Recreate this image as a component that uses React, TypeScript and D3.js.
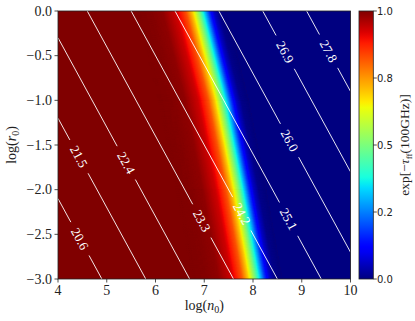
import React from "react";
import * as d3 from "d3";

const width = 415;
const height = 321;
const plot = { left: 58, right: 350.5, top: 11, bottom: 279 };
const cbar = { left: 359, right: 373.3, top: 11, bottom: 279 };

const xTicks = [4, 5, 6, 7, 8, 9, 10];
const yTicks = [0, -0.5, -1, -1.5, -2, -2.5, -3];
const yTickLabels = ["0.0", "−0.5", "−1.0", "−1.5", "−2.0", "−2.5", "−3.0"];

// x position where exp(-tau) = 0.5, read at a few rows
const bandRowY = [0, -1, -2, -3];
const bandMidX = [6.9, 7.36, 7.72, 8.05];
// colour profile across the band: offset (dex from the mid line) -> value
const profileOffset = [-1.3, -1.0, -0.75, -0.48, -0.27, -0.14, 0, 0.1, 0.2, 0.3, 0.4, 0.55];
const profileValue = [1.0, 0.995, 0.985, 0.93, 0.82, 0.69, 0.5, 0.34, 0.18, 0.065, 0.013, 0.0];

// contour levels of log N = log n0 + log r0 + 18.7
const contourLevels = [20.6, 21.5, 22.4, 23.3, 24.2, 25.1, 26.0, 26.9, 27.8];
const contourLabelX = [4.45, 4.43, 5.4, 6.95, 7.77, 8.73, 8.75, 8.66, 9.55];
const levelOffset = 18.7;

const cbTicks = [0, 0.25, 0.5, 0.75, 1];
const cbTickLabels = ["0.0", "0.2", "0.5", "0.8", "1.0"];

// matplotlib "jet"
const jetR = d3.scaleLinear([0, 0.35, 0.66, 0.89, 1], [0, 0, 1, 1, 0.5]).clamp(true);
const jetG = d3.scaleLinear([0, 0.125, 0.375, 0.64, 0.91, 1], [0, 0, 1, 1, 0, 0]).clamp(true);
const jetB = d3.scaleLinear([0, 0.11, 0.34, 0.65, 1], [0.5, 1, 1, 0, 0]).clamp(true);
const jet = (v: number) => d3.rgb(jetR(v) * 255, jetG(v) * 255, jetB(v) * 255).formatHex();

const serif = "'Liberation Serif', 'Times New Roman', serif";
const sans = "'DejaVu Sans', sans-serif";

export default function App() {
  const x = d3.scaleLinear().domain([4, 10]).range([plot.left, plot.right]);
  const y = d3.scaleLinear().domain([0, -3]).range([plot.top, plot.bottom]);
  const cb = d3.scaleLinear().domain([0, 1]).range([cbar.bottom, cbar.top]);
  const profile = d3.scaleLinear(profileOffset, profileValue).clamp(true);

  const edge = (off: number) => bandRowY.map((r, k) => [x(bandMidX[k] + off), y(r)]);
  const poly = (a: number[][], b: number[][]) =>
    a.concat(b.slice().reverse()).map((p) => p.join(",")).join(" ");

  const step = 0.01;
  const offs = d3.range(profileOffset[0], profileOffset[profileOffset.length - 1], step);
  const strips = offs.map((o) => ({
    points: poly(edge(o), edge(o + step)),
    fill: jet(profile(o + step / 2)),
  }));
  const lastOff = profileOffset[profileOffset.length - 1];
  const blueRegion = poly(
    edge(lastOff),
    bandRowY.map((r) => [x(11), y(r)])
  );

  // contour line direction in pixels
  const dx = x(5) - x(4);
  const dy = y(-1) - y(0);
  const len = Math.hypot(dx, dy);
  const ux = dx / len;
  const uy = dy / len;
  const angle = (Math.atan2(dy, dx) * 180) / Math.PI;
  const gap = 19;

  const contours = contourLevels.map((lev, i) => {
    const s = lev - levelOffset;
    const xa = Math.max(4, s);
    const xb = Math.min(10, s + 3);
    const p0 = [x(xa), y(s - xa)];
    const p1 = [x(xb), y(s - xb)];
    const lx = contourLabelX[i];
    const c = [x(lx), y(s - lx)];
    return {
      lev,
      c,
      segs: [
        [p0, [c[0] - gap * ux, c[1] - gap * uy]],
        [[c[0] + gap * ux, c[1] + gap * uy], p1],
      ],
    };
  });

  const gradStops = d3.range(0, 1.0001, 0.02);

  return (
    <svg width={width} height={height} style={{ position: "absolute", left: 0, top: 0 }}>
      <defs>
        <clipPath id="plotClip">
          <rect x={plot.left} y={plot.top} width={plot.right - plot.left} height={plot.bottom - plot.top} />
        </clipPath>
        <linearGradient id="jetGrad" x1="0" y1="1" x2="0" y2="0">
          {gradStops.map((v) => (
            <stop key={v} offset={v} stopColor={jet(v)} />
          ))}
        </linearGradient>
      </defs>
      <rect width={width} height={height} fill="#fff" />

      {/* heat map */}
      <g clipPath="url(#plotClip)">
        <rect x={plot.left} y={plot.top} width={plot.right - plot.left} height={plot.bottom - plot.top} fill={jet(1)} />
        <polygon points={blueRegion} fill={jet(0)} stroke={jet(0)} strokeWidth={0.5} />
        {strips.map((s, i) => (
          <polygon key={i} points={s.points} fill={s.fill} stroke={s.fill} strokeWidth={0.5} />
        ))}

        {/* contours */}
        {contours.map((c) => (
          <g key={c.lev}>
            {c.segs.map((sg, j) => (
              <line key={j} x1={sg[0][0]} y1={sg[0][1]} x2={sg[1][0]} y2={sg[1][1]} stroke="#fff" strokeWidth={0.9} />
            ))}
            <text
              transform={`translate(${c.c[0]},${c.c[1]}) rotate(${angle})`}
              textAnchor="middle"
              dominantBaseline="central"
              fill="#fff"
              fontFamily={serif}
              fontSize={13}
            >
              {c.lev.toFixed(1)}
            </text>
          </g>
        ))}
      </g>

      {/* frame */}
      <rect x={plot.left} y={plot.top} width={plot.right - plot.left} height={plot.bottom - plot.top} fill="none" stroke="#222" strokeWidth={0.8} />

      {/* x axis */}
      {xTicks.map((t) => (
        <g key={t}>
          <line x1={x(t)} x2={x(t)} y1={plot.bottom} y2={plot.bottom + 3.5} stroke="#222" strokeWidth={0.8} />
          <text x={x(t)} y={295} textAnchor="middle" fontFamily={serif} fontSize={14} fill="#222">
            {t}
          </text>
        </g>
      ))}
      <text x={(plot.left + plot.right) / 2} y={310} textAnchor="middle" fontFamily={serif} fontSize={14} fill="#222">
        log(<tspan fontStyle="italic">n</tspan>
        <tspan fontSize={10} dy={3}>0</tspan>
        <tspan dy={-3}>)</tspan>
      </text>

      {/* y axis */}
      {yTicks.map((t, i) => (
        <g key={t}>
          <line x1={plot.left - 3.5} x2={plot.left} y1={y(t)} y2={y(t)} stroke="#222" strokeWidth={0.8} />
          <text x={52} y={y(t)} dy="0.33em" textAnchor="end" fontFamily={serif} fontSize={14} fill="#222">
            {yTickLabels[i]}
          </text>
        </g>
      ))}
      <text
        transform={`translate(15.5,${(plot.top + plot.bottom) / 2}) rotate(-90)`}
        textAnchor="middle"
        fontFamily={serif}
        fontSize={14}
        fill="#222"
      >
        log(<tspan fontStyle="italic">r</tspan>
        <tspan fontSize={10} dy={3}>0</tspan>
        <tspan dy={-3}>)</tspan>
      </text>

      {/* colorbar */}
      <rect x={cbar.left} y={cbar.top} width={cbar.right - cbar.left} height={cbar.bottom - cbar.top} fill="url(#jetGrad)" stroke="#222" strokeWidth={0.8} />
      {cbTicks.map((t, i) => (
        <g key={t}>
          <line x1={cbar.right} x2={cbar.right + 3.5} y1={cb(t)} y2={cb(t)} stroke="#222" strokeWidth={0.8} />
          <text x={377} y={cb(t)} dy="0.36em" fontFamily={sans} fontSize={10} fill="#222">
            {cbTickLabels[i]}
          </text>
        </g>
      ))}
      <text
        transform={`translate(409,${(cbar.top + cbar.bottom) / 2}) rotate(-90)`}
        textAnchor="middle"
        fontFamily={serif}
        fontSize={13.5}
        fill="#222"
      >
        exp[−<tspan fontStyle="italic">τ</tspan>
        <tspan fontSize={9} dy={2.5}>ff</tspan>
        <tspan dy={-2.5}>(100GHz)]</tspan>
      </text>
    </svg>
  );
}
